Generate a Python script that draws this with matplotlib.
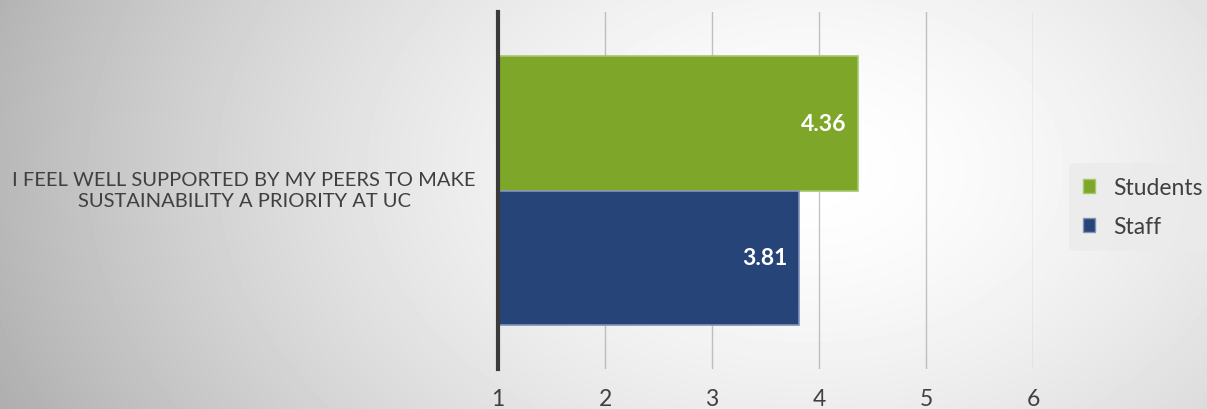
import numpy as np
import matplotlib
matplotlib.use("Agg")
import matplotlib.pyplot as plt
from matplotlib.patches import Patch

# survey item and mean scores
categoria = "I FEEL WELL SUPPORTED BY MY PEERS TO MAKE\nSUSTAINABILITY A PRIORITY AT UC"
grupos = ["Students", "Staff"]
medias = [4.36, 3.81]
cores = ["#7EA629", "#274478"]
bordas = ["#A6C86A", "#7F92B8"]
ticks_x = [1, 2, 3, 4, 5, 6]

plt.rcParams["font.family"] = ["Lato", "DejaVu Sans"]

fig = plt.figure(figsize=(12.07, 4.10), dpi=100)

# background: soft radial gradient, white in the middle, grey at the edges
bg = fig.add_axes([0, 0, 1, 1], zorder=-10)
w, h = 1207, 410
xx, yy = np.meshgrid(np.arange(w), np.arange(h))
dist = np.sqrt(((xx - 810) / 760.0) ** 2 + ((yy - 170) / 520.0) ** 2)
val = 1.0 - 0.25 * np.clip(dist, 0, 1.2) ** 1.6
bg.imshow(val, cmap="gray", vmin=0, vmax=1, aspect="auto", interpolation="bilinear")
bg.axis("off")

ax = fig.add_axes([498 / 1207, 1 - 370 / 410, (1033 - 498) / 1207, 357 / 410])
ax.patch.set_alpha(0)

# horizontal bars, Students on top
altura = 0.378
posicoes = [altura / 2, -altura / 2]
for g, m, c, b, y in zip(grupos, medias, cores, bordas, posicoes):
    ax.barh(y, m - 1, left=1, height=altura, color=c, edgecolor=b,
            linewidth=1.2, label=g, zorder=2)
    ax.text(m - 0.1, y, f"{m:.2f}", color="white", fontsize=16.5,
            fontweight="bold", ha="right", va="center", zorder=4)

ax.set_xlim(1, 6)
ax.set_ylim(-0.5, 0.5)
ax.set_xticks(ticks_x)
ax.set_yticks([])
ax.grid(True, axis="x", color="#7f7f7f", linewidth=1.0, alpha=0.45, zorder=3)
ax.tick_params(axis="x", length=0, pad=14, labelsize=16.5, labelcolor="#404040")
for lado in ["top", "right", "bottom"]:
    ax.spines[lado].set_visible(False)
ax.spines["left"].set_color("#3a3a3a")
ax.spines["left"].set_linewidth(3)
ax.spines["left"].set_zorder(5)

# category label to the left of the axis
fig.text(244 / 1207, 1 - 191 / 410, categoria, ha="center", va="center",
         multialignment="center", fontsize=14.5, color="#404040",
         linespacing=1.25)

handles = [Patch(facecolor=c, edgecolor=b, label=g)
           for g, c, b in zip(grupos, cores, bordas)]
leg = fig.legend(handles=handles, loc="center left",
                 bbox_to_anchor=(1069 / 1207, 1 - 208 / 410), frameon=True,
                 fontsize=16.5, handlelength=0.55, handleheight=0.55,
                 handletextpad=0.8, labelspacing=0.8, borderpad=0.6,
                 borderaxespad=0)
leg.get_frame().set_facecolor("#ebebeb")
leg.get_frame().set_edgecolor("none")
leg.get_frame().set_alpha(0.8)
for t in leg.get_texts():
    t.set_color("#404040")

fig.savefig("out.png", dpi=100)
